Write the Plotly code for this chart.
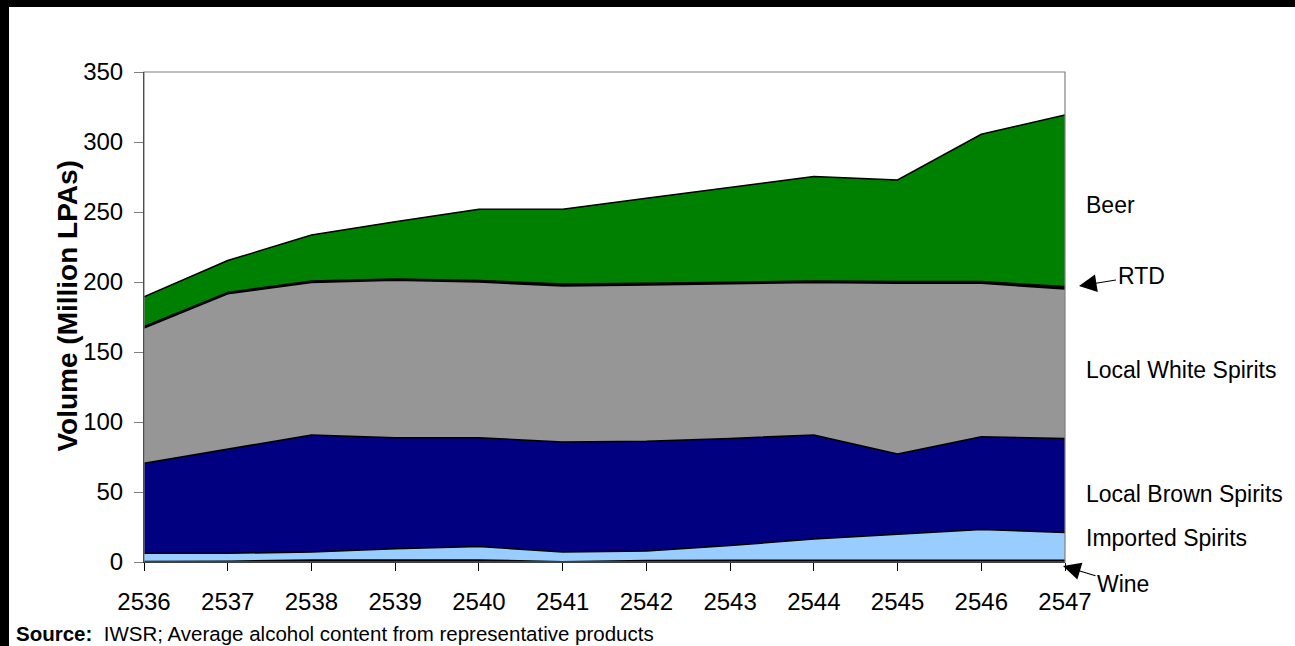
import plotly.graph_objects as go

years = [2536, 2537, 2538, 2539, 2540, 2541, 2542, 2543, 2544, 2545, 2546, 2547]
wine = [0.3, 0.5, 1.5, 1.5, 1.5, 0.2, 1.0, 1.2, 1.3, 1.3, 1.3, 1.3]
imported = [5.9, 5.7, 5.7, 8.0, 9.5, 7.0, 6.9, 10.5, 15.1, 18.7, 22.0, 19.7]
local_brown = [64.3, 74.3, 83.5, 79.3, 77.8, 78.5, 78.3, 76.6, 74.3, 57.2, 66.2, 67.3]
local_white = [96.6, 111.1, 109.0, 112.4, 111.2, 111.4, 111.7, 110.5, 109.0, 121.9, 109.6, 106.7]
rtd = [1.0, 1.0, 1.0, 1.0, 1.0, 1.5, 1.2, 1.0, 1.0, 1.2, 1.2, 1.7]
beer = [21.4, 22.7, 32.9, 40.9, 50.9, 53.3, 60.7, 67.8, 74.6, 72.6, 105.2, 122.6]

series = [
    ("Wine", wine, "#000000"),
    ("Imported Spirits", imported, "#99CCFF"),
    ("Local Brown Spirits", local_brown, "#000080"),
    ("Local White Spirits", local_white, "#969696"),
    ("RTD", rtd, "#000000"),
    ("Beer", beer, "#008000"),
]

FONT = "Liberation Sans, Arial, sans-serif"

fig = go.Figure()
for name, vals, col in series:
    fig.add_trace(go.Scatter(
        x=years, y=vals, name=name, mode="lines",
        stackgroup="one", fillcolor=col,
        line=dict(color="#000000", width=1.5),
    ))

# px -> paper helpers (plot area 144..1065 x, 72..562 y)
def px_x(p):
    return (p - 144) / 921.0

def px_y(p):
    return (562 - p) / 490.0

def val_y(p):
    return (562 - p) / 1.4

annotations = []
for text, ypix in [("Beer", 205), ("Local White Spirits", 370),
                   ("Local Brown Spirits", 494), ("Imported Spirits", 538)]:
    annotations.append(dict(
        x=px_x(1084), xref="paper", y=val_y(ypix), yref="y",
        text=text, showarrow=False, xanchor="left", yanchor="middle",
        font=dict(size=23, color="#000000", family=FONT),
    ))

annotations.append(dict(
    x=px_x(1079), xref="paper", y=px_y(286), yref="paper",
    text="RTD", showarrow=True, ax=62, ay=-10,
    arrowhead=2, arrowsize=3.2, arrowwidth=1.1, arrowcolor="#000000",
    font=dict(size=23, color="#000000", family=FONT),
))
annotations.append(dict(
    x=px_x(1063), xref="paper", y=px_y(566), yref="paper",
    text="Wine", showarrow=True, ax=60, ay=18,
    arrowhead=2, arrowsize=3.2, arrowwidth=1.1, arrowcolor="#000000",
    font=dict(size=23, color="#000000", family=FONT),
))

annotations.append(dict(
    x=px_x(49), xref="paper", y=px_y(306), yref="paper",
    text="<b>Volume (Million LPAs)</b>", textangle=-90, showarrow=False,
    font=dict(size=28, color="#000000", family=FONT),
))
annotations.append(dict(
    x=px_x(15), xref="paper", y=px_y(646), yref="paper",
    text="<b>Source:</b>  IWSR; Average alcohol content from representative products",
    showarrow=False, xanchor="left", yanchor="bottom", borderpad=0,
    font=dict(size=20.5, color="#000000", family=FONT),
))

shapes = [
    # black frame strips at top and left of the page
    dict(type="rect", xref="paper", yref="paper", x0=px_x(-20), x1=px_x(1320),
         y0=px_y(7), y1=px_y(-20), fillcolor="#000000", line=dict(width=0)),
    dict(type="rect", xref="paper", yref="paper", x0=px_x(-20), x1=px_x(9),
         y0=px_y(700), y1=px_y(-20), fillcolor="#000000", line=dict(width=0)),
    # plot border
    dict(type="rect", xref="paper", yref="paper", x0=0, x1=1, y0=0, y1=1,
         line=dict(color="#808080", width=1.2)),
]

fig.update_layout(
    width=1295, height=646,
    margin=dict(l=144, r=230, t=72, b=84),
    paper_bgcolor="#ffffff", plot_bgcolor="#ffffff",
    showlegend=False,
    font=dict(family=FONT, color="#000000"),
    annotations=annotations,
    shapes=shapes,
)
fig.update_xaxes(
    range=[2536, 2547], tickmode="linear", dtick=1, tick0=2536,
    showgrid=False, zeroline=False, showline=True, linecolor="#000000", linewidth=1,
    ticks="outside", ticklen=8, tickcolor="#000000", ticklabelstandoff=10,
    tickfont=dict(size=24, family=FONT, color="#000000"),
)
fig.update_yaxes(
    range=[0, 350], tickmode="linear", dtick=50,
    showgrid=False, zeroline=False, showline=True, linecolor="#000000", linewidth=1,
    ticks="outside", ticklen=9, tickcolor="#808080", ticklabelstandoff=6,
    tickfont=dict(size=24, family=FONT, color="#000000"),
)

fig.write_html("out.html", config={"displayModeBar": False},
               post_script="document.body.style.margin='0';")
